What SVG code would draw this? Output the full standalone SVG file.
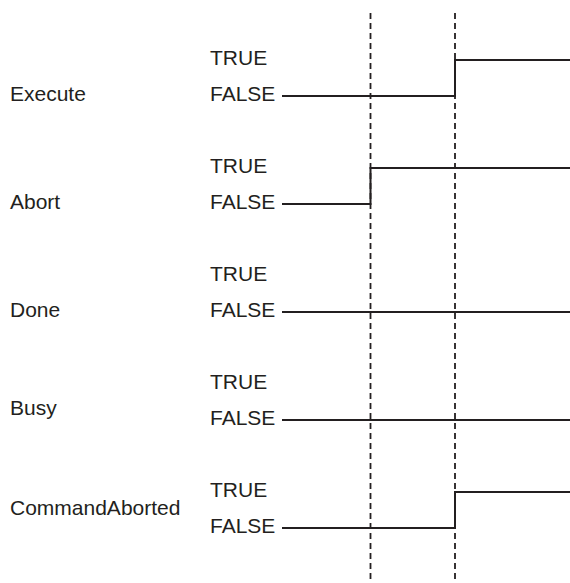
<svg xmlns="http://www.w3.org/2000/svg" width="570" height="583" viewBox="0 0 570 583">
<style>
text{font-family:"Liberation Sans",Arial,sans-serif;font-size:21px;fill:#231f20}
.sig{fill:none;stroke:#231f20;stroke-width:2}
.dash{fill:none;stroke:#231f20;stroke-width:1.8;stroke-dasharray:6 4}
</style>
<rect width="570" height="583" fill="#fff"/>
<g id="connectors">
<line class="dash" x1="370.5" y1="13" x2="370.5" y2="583"/>
<line class="dash" x1="455" y1="13" x2="455" y2="583"/>
<polyline class="sig" points="282,96 455,96 455,60 570,60"/>
<polyline class="sig" points="282,204 370.5,204 370.5,168 570,168"/>
<polyline class="sig" points="282,312 570,312"/>
<polyline class="sig" points="282,420 570,420"/>
<polyline class="sig" points="282,528 455,528 455,492 570,492"/>
</g>
<g id="execute"><text x="10" y="101">Execute</text><text x="210" y="65">TRUE</text><text x="210" y="101">FALSE</text></g>
<g id="abort"><text x="10" y="209">Abort</text><text x="210" y="173">TRUE</text><text x="210" y="209">FALSE</text></g>
<g id="done"><text x="10" y="317">Done</text><text x="210" y="281">TRUE</text><text x="210" y="317">FALSE</text></g>
<g id="busy"><text x="10" y="415">Busy</text><text x="210" y="389">TRUE</text><text x="210" y="425">FALSE</text></g>
<g id="commandaborted"><text x="10" y="515">CommandAborted</text><text x="210" y="497">TRUE</text><text x="210" y="533">FALSE</text></g>
</svg>
